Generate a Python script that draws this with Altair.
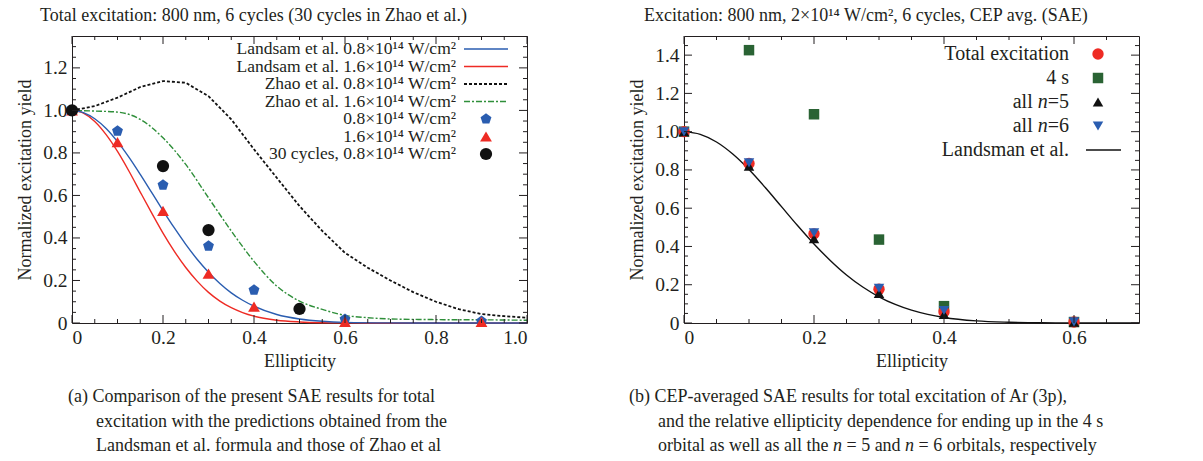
import altair as alt
import pandas as pd

FONT = "Liberation Serif"
TXT = "#231f20"
W, H = 455, 287

# ---------------- panel (a) data ----------------
land_x = [0, 0.025, 0.05, 0.075, 0.1, 0.125, 0.15, 0.175, 0.2, 0.225, 0.25, 0.275, 0.3,
          0.325, 0.35, 0.375, 0.4, 0.45, 0.5, 0.55, 0.6, 0.7, 0.8, 0.9, 1.0]
land08_y = [1.0, 0.990, 0.961, 0.915, 0.853, 0.780, 0.699, 0.614, 0.529, 0.447, 0.370, 0.300, 0.239,
            0.186, 0.142, 0.107, 0.079, 0.040, 0.019, 0.008, 0.003, 0.0005, 0, 0, 0]
land16_y = [1.0, 0.987, 0.948, 0.886, 0.807, 0.715, 0.616, 0.518, 0.423, 0.337, 0.261, 0.197, 0.144,
            0.103, 0.072, 0.049, 0.032, 0.013, 0.005, 0.0015, 0.0004, 0, 0, 0, 0]

zhao_x = [0, 0.05, 0.1, 0.15, 0.2, 0.25, 0.3, 0.35, 0.4, 0.45, 0.5, 0.55, 0.6, 0.65, 0.7,
          0.75, 0.8, 0.85, 0.9, 0.95, 1.0]
zhao08_y = [1.0, 1.02, 1.06, 1.11, 1.138, 1.13, 1.067, 0.958, 0.817, 0.683, 0.55, 0.433, 0.33, 0.26, 0.2,
            0.145, 0.10, 0.065, 0.042, 0.032, 0.025]
zhao16_y = [1.0, 0.997, 0.992, 0.958, 0.871, 0.746, 0.589, 0.433, 0.29, 0.174, 0.103, 0.064, 0.036, 0.025, 0.019,
            0.017, 0.016, 0.015, 0.015, 0.014, 0.013]

sae_x = [0, 0.1, 0.2, 0.3, 0.4, 0.6, 0.9]
sae08_y = [1.0, 0.903, 0.649, 0.362, 0.155, 0.018, 0.008]
sae16_y = [1.0, 0.851, 0.527, 0.232, 0.077, 0.005, 0.005]
c30_x = [0, 0.2, 0.3, 0.5]
c30_y = [1.0, 0.738, 0.437, 0.066]

a_xticks = [0, 0.2, 0.4, 0.6, 0.8, 1.0]
a_xminor = [0.05, 0.1, 0.15, 0.25, 0.3, 0.35, 0.45, 0.5, 0.55, 0.65, 0.7, 0.75, 0.85, 0.9, 0.95]
a_yticks = [0, 0.2, 0.4, 0.6, 0.8, 1.0, 1.2]
a_yminor = [0.05, 0.1, 0.15, 0.25, 0.3, 0.35, 0.45, 0.5, 0.55, 0.65, 0.7, 0.75, 0.85, 0.9, 0.95,
            1.05, 1.1, 1.15, 1.25, 1.3]

a_title = "Total excitation: 800 nm, 6 cycles (30 cycles in Zhao et al.)"
a_legend = ["Landsam et al. 0.8×10¹⁴ W/cm²", "Landsam et al. 1.6×10¹⁴ W/cm²",
            "Zhao et al. 0.8×10¹⁴ W/cm²", "Zhao et al. 1.6×10¹⁴ W/cm²",
            "0.8×10¹⁴ W/cm²", "1.6×10¹⁴ W/cm²", "30 cycles, 0.8×10¹⁴ W/cm²"]
a_caption = ["(a) Comparison of the present SAE results for total",
             "excitation with the predictions obtained from the",
             "Landsman et al. formula and those of Zhao et al"]

# ---------------- panel (b) data ----------------
b_x = [0, 0.1, 0.2, 0.3, 0.4, 0.6]
tot_y = [1.0, 0.834, 0.466, 0.177, 0.058, 0.005]
s4_y = [1.0, 1.426, 1.091, 0.436, 0.088, 0.005]
n5_y = [1.0, 0.82, 0.44, 0.155, 0.045, 0.004]
n6_y = [1.0, 0.837, 0.472, 0.182, 0.065, 0.006]
bl_x = [0, 0.025, 0.05, 0.075, 0.1, 0.125, 0.15, 0.175, 0.2, 0.225, 0.25, 0.275, 0.3, 0.325, 0.35,
        0.375, 0.4, 0.45, 0.5, 0.55, 0.6, 0.65, 0.7]
bl_y = [1.0, 0.986, 0.946, 0.883, 0.802, 0.708, 0.608, 0.508, 0.413, 0.327, 0.251, 0.188, 0.137, 0.097,
        0.067, 0.045, 0.029, 0.011, 0.004, 0.001, 0.0003, 0.0, 0.0]

b_xticks = [0, 0.2, 0.4, 0.6]
b_xminor = [0.05, 0.1, 0.15, 0.25, 0.3, 0.35, 0.45, 0.5, 0.55, 0.65]
b_yticks = [0, 0.2, 0.4, 0.6, 0.8, 1.0, 1.2, 1.4]
b_yminor = [0.05, 0.1, 0.15, 0.25, 0.3, 0.35, 0.45, 0.5, 0.55, 0.65, 0.7, 0.75, 0.85, 0.9, 0.95,
            1.05, 1.1, 1.15, 1.25, 1.3, 1.35, 1.45]

b_title = "Excitation: 800 nm, 2×10¹⁴ W/cm², 6 cycles, CEP avg. (SAE)"
b_caption1 = "(b) CEP-averaged SAE results for total excitation of Ar (3p),"
b_caption2 = "and the relative ellipticity dependence for ending up in the 4 s"
b_caption3 = [("orbital as well as all the ", False), ("n", True), (" = 5 and ", False), ("n", True),
              (" = 6 orbitals, respectively", False)]

# ---------------- helpers ----------------
TWD = {' ': 250, '(': 333, ')': 333, ',': 250, '-': 333, '.': 250, '/': 278, ':': 278, '=': 564, '×': 564,
       'A': 722, 'C': 667, 'E': 611, 'L': 611, 'N': 722, 'P': 556, 'S': 556, 'T': 611, 'W': 944, 'Z': 611,
       'a': 444, 'b': 500, 'c': 444, 'd': 500, 'e': 444, 'f': 333, 'g': 500, 'h': 500, 'i': 278, 'j': 278,
       'k': 500, 'l': 278, 'm': 778, 'n': 500, 'o': 500, 'p': 500, 'q': 500, 'r': 333, 's': 389, 't': 278,
       'u': 500, 'v': 500, 'w': 722, 'x': 500, 'y': 500, 'z': 444}


def tw(s, size):
    return sum(TWD.get(ch, 500) for ch in s) * size / 1000.0


ONE = pd.DataFrame({"k": [0]})
PENTAGON = "M0,-1L0.951,-0.309L0.588,0.809L-0.588,0.809L-0.951,-0.309Z"
FMT = "datum.value == 0 ? '0' : format(datum.value, '.1f')"


def main_axes(xticks, yticks):
    ax = alt.Axis(values=xticks, labelExpr=FMT, ticks=False, domain=False, grid=False,
                  labelFont=FONT, labelFontSize=19.5, labelColor=TXT, labelPadding=5,
                  title="Ellipticity", titleFont=FONT, titleFontSize=18, titleFontWeight="normal",
                  titleColor=TXT, titlePadding=6)
    ay = alt.Axis(values=yticks, labelExpr=FMT, ticks=False, domain=False, grid=False,
                  labelFont=FONT, labelFontSize=19.5, labelColor=TXT, labelPadding=5,
                  title="Normalized excitation yield", titleFont=FONT, titleFontSize=18,
                  titleFontWeight="normal", titleColor=TXT, titlePadding=8)
    return ax, ay


class Panel:
    def __init__(self, xs, ys, xticks, yticks):
        self.xs, self.ys = xs, ys
        self.ax, self.ay = main_axes(xticks, yticks)
        self.layers = []

    def X(self, f):
        return alt.X(f, scale=self.xs, axis=self.ax)

    def Y(self, f):
        return alt.Y(f, scale=self.ys, axis=self.ay)

    def line(self, x, y, color, width=1.4, dash=None, interp="monotone"):
        kw = dict(color=color, strokeWidth=width, interpolate=interp)
        if dash:
            kw["strokeDash"] = dash
        self.layers.append(alt.Chart(pd.DataFrame({"x": x, "y": y})).mark_line(**kw).encode(
            x=self.X("x:Q"), y=self.Y("y:Q")))

    def pts(self, x, y, shape, color, size):
        self.layers.append(alt.Chart(pd.DataFrame({"x": x, "y": y})).mark_point(
            shape=shape, filled=True, color=color, size=size, opacity=1, strokeWidth=0).encode(
            x=self.X("x:Q"), y=self.Y("y:Q")))

    def ticks(self, xmaj, xmin, ymaj, ymin):
        for vals, ln in ((xmaj, 8), (xmin, 4)):
            base = alt.Chart(pd.DataFrame({"v": vals})).mark_rule(color=TXT, strokeWidth=1)
            self.layers.append(base.encode(x=self.X("v:Q"), y=alt.value(H), y2=alt.value(H - ln)))
            self.layers.append(base.encode(x=self.X("v:Q"), y=alt.value(0), y2=alt.value(ln)))
        for vals, ln in ((ymaj, 8), (ymin, 4)):
            base = alt.Chart(pd.DataFrame({"v": vals})).mark_rule(color=TXT, strokeWidth=1)
            self.layers.append(base.encode(y=self.Y("v:Q"), x=alt.value(0), x2=alt.value(ln)))
            self.layers.append(base.encode(y=self.Y("v:Q"), x=alt.value(W), x2=alt.value(W - ln)))

    def text(self, s, x, y, size, align="left", italic=False):
        self.layers.append(alt.Chart(pd.DataFrame({"t": [s]})).mark_text(
            align=align, baseline="middle", font=FONT, fontSize=size, color=TXT,
            fontStyle="italic" if italic else "normal").encode(
            text="t:N", x=alt.value(x), y=alt.value(y)))

    def leg_rule(self, x1, x2, y, color, dash=None, width=1.4):
        kw = dict(color=color, strokeWidth=width)
        if dash:
            kw["strokeDash"] = dash
        self.layers.append(alt.Chart(ONE).mark_rule(**kw).encode(
            x=alt.value(x1), x2=alt.value(x2), y=alt.value(y)))

    def leg_pt(self, x, y, shape, color, size):
        self.layers.append(alt.Chart(ONE).mark_point(
            shape=shape, filled=True, color=color, size=size, opacity=1, strokeWidth=0).encode(
            x=alt.value(x), y=alt.value(y)))


BLUE = "#2a5db0"
RED = "#ee2b24"
GREEN = "#2f8f3a"
DKGREEN = "#2a6334"
BLACK = "#111111"
cap_y = [H + 74, H + 98.5, H + 123]

# ---------------- panel (a) ----------------
pa = Panel(alt.Scale(domain=[0, 1.0], nice=False, zero=False),
           alt.Scale(domain=[0, 1.35], nice=False, zero=False), a_xticks, a_yticks)
pa.line(zhao_x, zhao08_y, BLACK, width=1.8, dash=[3, 2], interp="linear")
pa.line(zhao_x, zhao16_y, GREEN, width=1.4, dash=[6, 2, 2, 2])
pa.line(land_x, land16_y, RED)
pa.line(land_x, land08_y, BLUE)
pa.pts(sae_x, sae08_y, PENTAGON, BLUE, 130)
pa.pts(sae_x, sae16_y, "triangle-up", RED, 140)
pa.pts(c30_x, c30_y, "circle", BLACK, 150)
pa.ticks(a_xticks, a_xminor, a_yticks, a_yminor)

a_rows = [13 + 17.5 * i for i in range(len(a_legend))]
for lab, yy in zip(a_legend, a_rows):
    pa.text(lab, 384, yy, 17.5, align="right")
pa.leg_rule(392, 436, a_rows[0], BLUE)
pa.leg_rule(392, 436, a_rows[1], RED)
pa.leg_rule(392, 436, a_rows[2], BLACK, dash=[3, 2], width=1.8)
pa.leg_rule(392, 436, a_rows[3], GREEN, dash=[6, 2, 2, 2])
pa.leg_pt(414, a_rows[4], PENTAGON, BLUE, 130)
pa.leg_pt(414, a_rows[5], "triangle-up", RED, 140)
pa.leg_pt(414, a_rows[6], "circle", BLACK, 150)
pa.text(a_caption[0], -4, cap_y[0], 18)
pa.text(a_caption[1], 24, cap_y[1], 18)
pa.text(a_caption[2], 24, cap_y[2], 18)

panel_a = alt.layer(*pa.layers).properties(
    width=W, height=H,
    title=alt.TitleParams(a_title, font=FONT, fontSize=18, fontWeight="normal", color=TXT,
                          anchor="start", frame="group", dx=-32, offset=11))

# ---------------- panel (b) ----------------
pb = Panel(alt.Scale(domain=[0, 0.7], nice=False, zero=False),
           alt.Scale(domain=[0, 1.5], nice=False, zero=False), b_xticks, b_yticks)
pb.line(bl_x, bl_y, BLACK)
pb.pts(b_x, s4_y, "square", DKGREEN, 110)
pb.pts(b_x, tot_y, "circle", RED, 130)
pb.pts(b_x, n5_y, "triangle-up", BLACK, 110)
pb.pts(b_x, n6_y, "triangle-down", BLUE, 110)
pb.ticks(b_xticks, b_xminor, b_yticks, b_yminor)

b_rows = [18, 42, 66, 90, 114]
RX = 385
pb.text("Total excitation", RX, b_rows[0], 20, align="right")
pb.text("4 s", RX, b_rows[1], 20, align="right")
for yy, num in ((b_rows[2], "=5"), (b_rows[3], "=6")):
    w_num = tw(num, 20)
    pb.text(num, RX, yy, 20, align="right")
    pb.text("n", RX - w_num, yy, 20, align="right", italic=True)
    pb.text("all", RX - w_num - tw("n", 20) - tw(" ", 20), yy, 20, align="right")
pb.text("Landsman et al.", RX, b_rows[4], 20, align="right")
pb.leg_pt(414, b_rows[0], "circle", RED, 130)
pb.leg_pt(414, b_rows[1], "square", DKGREEN, 110)
pb.leg_pt(414, b_rows[2], "triangle-up", BLACK, 110)
pb.leg_pt(414, b_rows[3], "triangle-down", BLUE, 110)
pb.leg_rule(402, 437, b_rows[4], BLACK)
pb.text(b_caption1, -55, cap_y[0], 18)
pb.text(b_caption2, -26, cap_y[1], 18)
cx = -26.0
for seg, ital in b_caption3:
    lead = len(seg) - len(seg.lstrip(" "))
    pb.text(seg.strip(" "), cx + tw(" " * lead, 18), cap_y[2], 18, italic=ital)
    cx += tw(seg, 18)

panel_b = alt.layer(*pb.layers).properties(
    width=W, height=H,
    title=alt.TitleParams(b_title, font=FONT, fontSize=18, fontWeight="normal", color=TXT,
                          anchor="start", frame="group", dx=-40, offset=11))

chart = alt.hconcat(panel_a, panel_b, spacing=157, bounds="flush").properties(
    padding={"left": 16, "top": 6, "right": 5, "bottom": 5}, background="white"
).configure_view(stroke=TXT, strokeWidth=1)

chart.save("out.html", embed_options={"renderer": "svg", "actions": False})
